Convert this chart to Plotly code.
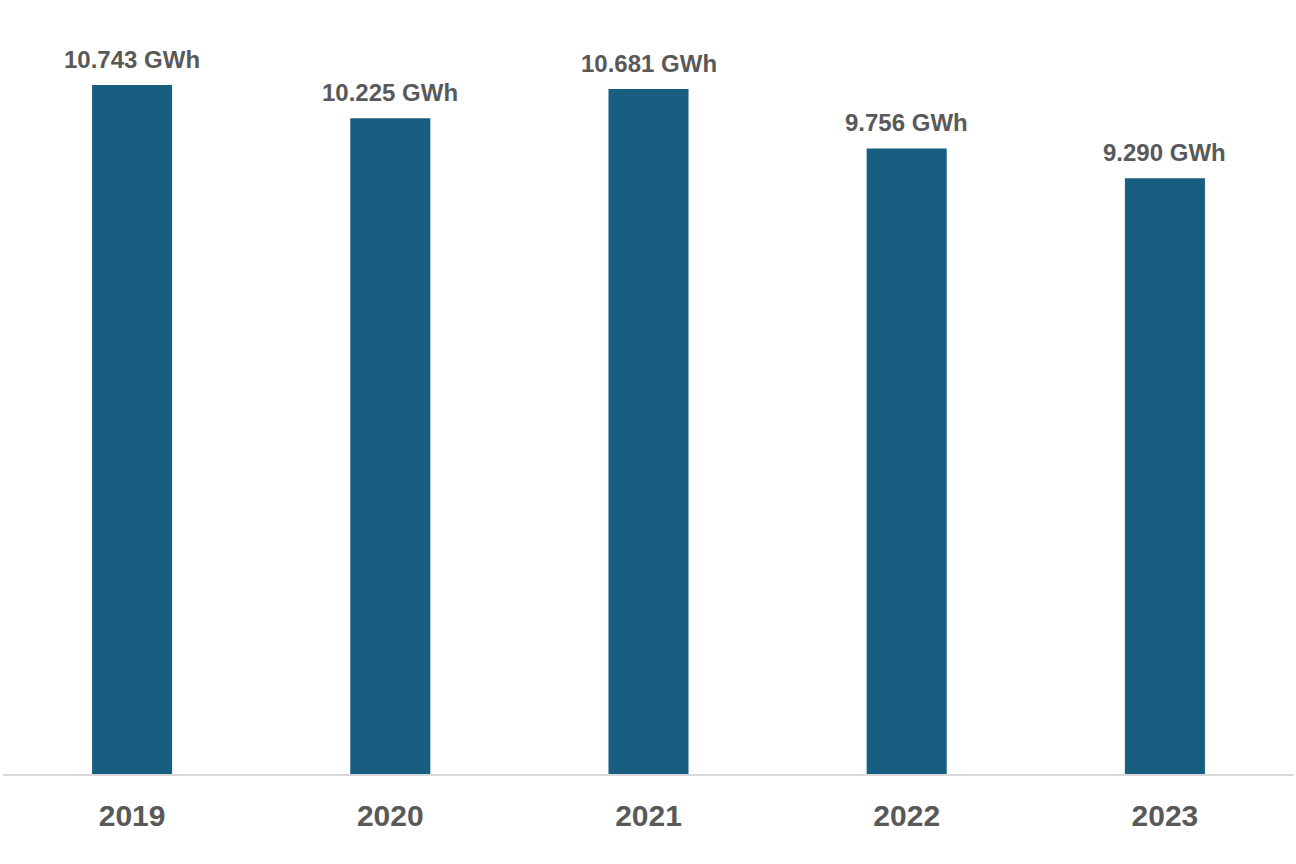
import plotly.graph_objects as go

years = ["2019", "2020", "2021", "2022", "2023"]
values_mwh = [10743, 10225, 10681, 9756, 9290]
labels = [f"{v:,}".replace(",", ".") + " GWh" for v in values_mwh]

bar_color = "#175E80"
text_color = "#595959"

fig = go.Figure()
fig.add_trace(go.Bar(
    x=years, y=values_mwh, marker=dict(color=bar_color, line=dict(width=0)),
    hoverinfo="skip",
))
for i, (v, lab) in enumerate(zip(values_mwh, labels)):
    fig.add_annotation(x=i, y=v, xref="x", yref="y", text=f"<b>{lab}</b>", showarrow=False,
                       yanchor="bottom", yshift=10,
                       font=dict(family="Liberation Sans, Arial", size=24, color=text_color))

fig.update_layout(
    width=1296, height=864,
    margin=dict(l=3, r=2, t=0, b=90),
    paper_bgcolor="white", plot_bgcolor="white",
    bargap=0.69, showlegend=False,
    xaxis=dict(type="category", categoryorder="array", categoryarray=years,
               range=[-0.5, 4.5],
               showgrid=False, showline=True, linecolor="#D9D9D9", linewidth=1.5,
               ticks="outside", ticklen=14, tickcolor="rgba(0,0,0,0)", tickangle=0,
               tickfont=dict(family="Liberation Sans, Arial", size=30, color=text_color),
               tickmode="array", tickvals=years, ticktext=[f"<b>{y}</b>" for y in years]),
    yaxis=dict(range=[0, 12070], visible=False, showgrid=False, zeroline=False),
)
fig.write_html("out.html", config={"displayModeBar": False},
               post_script="document.body.style.margin='0';")
